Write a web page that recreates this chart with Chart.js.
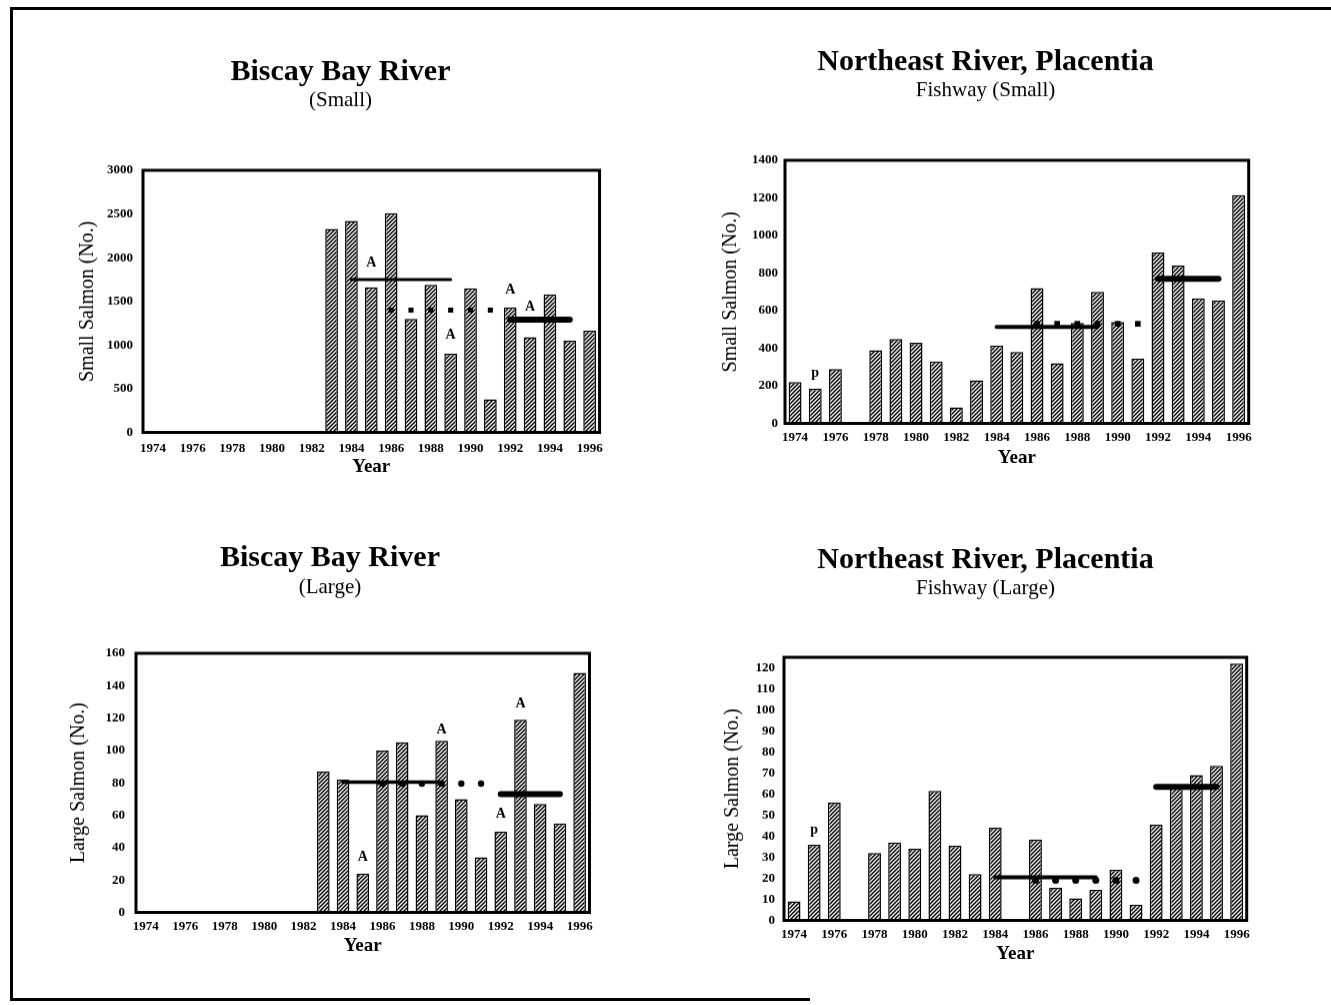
<!DOCTYPE html>
<html><head><meta charset="utf-8">
<script src="https://cdn.jsdelivr.net/npm/chart.js@4/dist/chart.umd.min.js"></script>
<style>
html,body{margin:0;padding:0;background:#fff;}
body{width:1331px;height:1005px;position:relative;overflow:hidden;}
canvas{position:absolute;}
.ln{position:absolute;background:#000;}
</style></head><body>
<div class="ln" style="left:11px;top:7px;width:1320px;height:3px"></div>
<div class="ln" style="left:10px;top:7px;width:3px;height:994px"></div>
<div class="ln" style="left:10px;top:998px;width:800px;height:3px"></div>
<canvas id="c1"></canvas>
<canvas id="c2"></canvas>
<canvas id="c3"></canvas>
<canvas id="c4"></canvas>
<script>
// ---------- data ----------
const years = [1974,1975,1976,1977,1978,1979,1980,1981,1982,1983,1984,1985,1986,1987,1988,1989,1990,1991,1992,1993,1994,1995,1996];
const meanSpans = [[1984,1989],[1986,1991],[1992,1995]]; // solid, dotted, thick

const bbSmall = [null,null,null,null,null,null,null,null,null,2330,2420,1660,2510,1300,1690,900,1650,380,1430,1090,1580,1050,1165];
const bbSmallMeans = [1750,1400,1290];
const bbSmallNoteYears = [1985,1989,1992,1993];
const bbSmallNoteValues = [1940,1110,1630,1430];

const neSmall = [220,185,290,null,390,450,430,330,85,230,415,380,720,320,535,700,540,345,910,840,665,655,1215];
const neSmallMeans = [513,530,770];
const neSmallNoteYears = [1975];
const neSmallNoteValues = [265];

const bbLarge = [null,null,null,null,null,null,null,null,null,87,82,24,100,105,60,106,70,34,50,119,67,55,148];
const bbLargeMeans = [80.5,79.5,73];
const bbLargeNoteYears = [1985,1989,1992,1993];
const bbLargeNoteValues = [34,113,61,129];

const neLarge = [9,36,56,null,32,37,34,61.5,35.5,22,44,null,38.5,15.5,10.5,14.5,24,7.5,45.5,63,69,73.5,122];
const neLargeMeans = [20.5,19,63.5];
const neLargeNoteYears = [1975];
const neLargeNoteValues = [43];

// ---------- helpers ----------
const SERIF = '"Liberation Serif", "Times New Roman", serif';

function makeHatch() {
  const s = 4;
  const c = document.createElement('canvas');
  c.width = s; c.height = s;
  const x = c.getContext('2d');
  x.fillStyle = '#fff'; x.fillRect(0,0,s,s);
  x.strokeStyle = '#000'; x.lineWidth = 1.5;
  x.beginPath();
  x.moveTo(-1,s+1); x.lineTo(s+1,-1);
  x.moveTo(-1,1); x.lineTo(1,-1);
  x.moveTo(s-1,s+1); x.lineTo(s+1,s-1);
  x.stroke();
  return x.createPattern(c, 'repeat');
}

function spanData(span, value) {
  return years.map(y => (y >= span[0] && y <= span[1]) ? value : null);
}

const framePlugin = {
  id: 'frame',
  afterDraw(chart) {
    const {ctx, chartArea: a} = chart;
    ctx.save();
    ctx.strokeStyle = '#000';
    ctx.lineWidth = 3;
    ctx.strokeRect(a.left, a.top, a.right - a.left, a.bottom - a.top);
    ctx.restore();
  }
};

const notesPlugin = {
  id: 'notes',
  afterDatasetsDraw(chart, args, opts) {
    if (!opts || !opts.years) return;
    const {ctx} = chart;
    const xs = chart.scales.x, ys = chart.scales.y;
    ctx.save();
    ctx.font = opts.font;
    ctx.fillStyle = '#000';
    ctx.textAlign = 'center';
    ctx.textBaseline = 'middle';
    opts.years.forEach((yr, i) => {
      ctx.fillText(opts.text, xs.getPixelForValue(years.indexOf(yr)), ys.getPixelForValue(opts.values[i]));
    });
    ctx.restore();
  }
};

function makePanel(id, g, d) {
  const axisLeft = g.yTitleX - 10;
  const yW = g.L - axisLeft;
  const axisBottom = g.yearY + 9.5;
  const xH = axisBottom - g.B;
  const hw = Math.max(g.titleX - axisLeft, g.R - g.titleX) + 8;
  const cl = g.titleX - hw, cw = 2 * hw;
  const ct = g.titleY - 25;
  const cb = axisBottom + 6;
  const ch = cb - ct;
  const cv = document.getElementById(id);
  cv.width = cw; cv.height = ch;
  cv.style.left = cl + 'px'; cv.style.top = ct + 'px';
  cv.style.width = cw + 'px'; cv.style.height = ch + 'px';

  const hatch = makeHatch();
  const datasets = [
    {type:'line', data: spanData(meanSpans[0], d.means[0]), borderColor:'#000', borderWidth: g.solidW, pointRadius:0, borderCapStyle:'round', fill:false, order:0},
    {type:'line', data: spanData(meanSpans[1], d.means[1]), showLine:false, pointStyle: g.dotStyle, pointRadius: g.dotR, pointBackgroundColor:'#000', pointBorderColor:'#000', pointBorderWidth:0, order:0},
    {type:'line', data: spanData(meanSpans[2], d.means[2]), borderColor:'#000', borderWidth:6, pointRadius:0, borderCapStyle:'round', fill:false, order:0},
    {type:'bar', data: d.bars, backgroundColor: hatch, borderColor:'#000', borderWidth:1.5, barPercentage:0.64, categoryPercentage:1.0, order:2}
  ];

  new Chart(cv, {
    type: 'bar',
    data: {labels: years.map(String), datasets},
    options: {
      responsive: false,
      devicePixelRatio: 1,
      animation: false,
      events: [],
      layout: {padding: {left: axisLeft - cl, right: cl + cw - g.R, top: 0, bottom: cb - axisBottom}},
      plugins: {
        legend: {display: false},
        tooltip: {enabled: false},
        title: {display: true, text: d.title, color:'#000',
          font: {family: SERIF, size: 30, weight: 'bold', lineHeight: 1},
          padding: {top: 10, bottom: 0}},
        subtitle: {display: true, text: d.subtitle, color:'#000',
          font: {family: SERIF, size: 21, weight: 'normal', lineHeight: 1},
          padding: {top: g.subY - g.titleY - 25.5, bottom: g.T - (g.subY + 10.5)}},
        notes: {years: d.noteYears, values: d.noteValues, text: d.noteText, font: 'bold 14px ' + SERIF}
      },
      scales: {
        x: {
          grid: {display: false, drawTicks: false},
          border: {display: false},
          ticks: {
            autoSkip: false, maxRotation: 0, minRotation: 0, color:'#000',
            padding: g.xTickY - g.B - 7.8,
            font: {family: SERIF, size: 13, weight: 'bold'},
            callback: (v, i) => (years[i] % 2 === 0 ? String(years[i]) : '')
          },
          title: {display: true, text: 'Year', color:'#000',
            font: {family: SERIF, size: 19, weight: 'bold', lineHeight: 1},
            padding: {top: 0, bottom: 0}},
          afterFit: s => { s.height = xH; }
        },
        y: {
          min: 0, max: d.max,
          grid: {display: false, drawTicks: false},
          border: {display: false},
          ticks: {stepSize: d.step, includeBounds: false, color:'#000', padding: g.yTickPad,
            font: {family: SERIF, size: 13, weight: 'bold'},
            callback: v => String(v)},
          title: {display: true, text: d.yTitle, color:'#000',
            font: {family: SERIF, size: 20, weight: 'normal', lineHeight: 1},
            padding: {top: 0, bottom: 0}},
          afterFit: s => { s.width = yW; }
        }
      }
    },
    plugins: [framePlugin, notesPlugin]
  });
}

makePanel('c1',
  {L:143, R:603, T:170, B:432, titleX:340, titleY:72, subY:100, yTitleX:88, yearY:467, xTickY:448, yTickPad:10, solidW:3, dotStyle:'rect', dotR:3.6},
  {bars: bbSmall, means: bbSmallMeans, max: 3000, step: 500, title: 'Biscay Bay River', subtitle: '(Small)', yTitle: 'Small Salmon (No.)',
   noteYears: bbSmallNoteYears, noteValues: bbSmallNoteValues, noteText: 'A'});

makePanel('c2',
  {L:785, R:1250, T:160, B:423, titleX:983, titleY:62, subY:90, yTitleX:731, yearY:458, xTickY:437, yTickPad:7, solidW:4, dotStyle:'rect', dotR:4},
  {bars: neSmall, means: neSmallMeans, max: 1400, step: 200, title: 'Northeast River, Placentia', subtitle: 'Fishway (Small)', yTitle: 'Small Salmon (No.)',
   noteYears: neSmallNoteYears, noteValues: neSmallNoteValues, noteText: 'p'});

makePanel('c3',
  {L:136, R:591, T:653, B:912, titleX:330, titleY:558, subY:587, yTitleX:79, yearY:946, xTickY:926, yTickPad:11, solidW:3.5, dotStyle:'circle', dotR:3.2},
  {bars: bbLarge, means: bbLargeMeans, max: 160, step: 20, title: 'Biscay Bay River', subtitle: '(Large)', yTitle: 'Large Salmon (No.)',
   noteYears: bbLargeNoteYears, noteValues: bbLargeNoteValues, noteText: 'A'});

makePanel('c4',
  {L:784, R:1248, T:657, B:920, titleX:985, titleY:560, subY:588, yTitleX:733, yearY:954, xTickY:934, yTickPad:9, solidW:4, dotStyle:'circle', dotR:3.5},
  {bars: neLarge, means: neLargeMeans, max: 125, step: 10, title: 'Northeast River, Placentia', subtitle: 'Fishway (Large)', yTitle: 'Large Salmon (No.)',
   noteYears: neLargeNoteYears, noteValues: neLargeNoteValues, noteText: 'p'});
</script>
</body></html>
